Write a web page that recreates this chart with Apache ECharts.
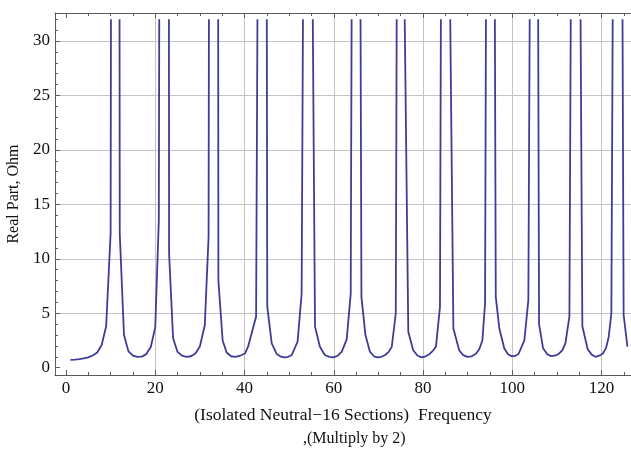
<!DOCTYPE html>
<html>
<head>
<meta charset="utf-8">
<script src="https://cdn.jsdelivr.net/npm/echarts@6/dist/echarts.min.js"></script>
<style>html,body{margin:0;padding:0;background:#fff;}#c{width:631px;height:451px;}</style>
</head>
<body>
<div id="c"></div>
<script>
// Frequency samples (x) and real part (Ohm); null = peak clipped above plot range (line break)
const freqX = [
  1,2,3,4,5,6,7,8,9,10,10.08, 11,
  12.0,12.05,13,14,15,16,17,18,19,20,20.8,20.9, 22,
  23.07,23.1,24,25,26,27,28,29,30,31.1,31.95,32.03, 33,
  34.1,34.15,35.1,36,37,38,39,40.1,40.8,42.6,42.9, 44,
  45.0,45.1,46.1,47.2,48.0,48.9,49.8,50.6,51.9,52.8,53.1, 54,
  55.3,55.8,56.9,58.0,59.0,59.9,60.9,61.8,62.9,63.8,64.0, 65,
  66.0,66.2,67.1,68.1,69.0,69.8,70.7,71.5,72.3,73.0,73.9,74.1, 75,
  75.9,76.7,77.8,78.8,79.7,80.6,81.5,82.3,82.9,83.8,84.0, 85,
  86.1,86.8,88.1,89.0,90.0,90.9,91.8,92.6,93.3,93.9,94.1, 95,
  96.1,96.3,97.1,98.2,99.0,99.7,100.6,101.4,102.7,103.6,103.9, 105,
  105.8,106.0,106.9,107.8,108.6,109.5,110.4,111.2,111.9,112.8,113.1, 114,
  115.3,115.7,116.9,117.8,118.6,119.5,120.3,121.0,121.6,122.2,122.5, 123.5,
  124.7,124.95,125.8
];
const realPart = [
  0.72,0.74,0.78,0.85,0.95,1.12,1.4,2.08,3.8,12.3,32, null,
  32,12.3,3.0,1.5,1.1,1.0,1.02,1.25,1.9,3.7,13.5,32, null,
  32,10.5,2.7,1.45,1.1,1.0,1.05,1.3,1.95,3.9,12,32, null,
  32,8.0,2.5,1.4,1.05,1.0,1.1,1.3,1.93,4.7,32, null,
  32,5.6,2.24,1.26,1.05,0.95,1.0,1.17,2.4,6.8,32, null,
  32,3.77,1.93,1.17,1.0,0.95,1.1,1.47,2.6,6.8,32, null,
  32,6.5,3.0,1.47,1.05,0.95,1.0,1.17,1.45,1.93,5.0,32, null,
  32,3.3,1.6,1.1,0.95,1.05,1.26,1.6,1.93,5.6,32, null,
  32,3.6,1.6,1.15,1.0,1.05,1.26,1.7,2.5,5.9,32, null,
  32,6.5,3.6,1.78,1.25,1.07,1.07,1.26,2.5,6.2,32, null,
  32,4.0,1.78,1.25,1.07,1.1,1.26,1.6,2.24,4.7,32, null,
  32,3.8,1.7,1.2,1.0,1.1,1.3,1.8,2.8,5.0,32, null,
  32,4.84,1.93
];
const xMajorTicks = [0,20,40,60,80,100,120];
const xMinorTicks = [5,10,15,25,30,35,45,50,55,65,70,75,85,90,95,105,110,115,125];
const yMajorTicks = [0,5,10,15,20,25,30];
const yMinorTicks = [1,2,3,4,6,7,8,9,11,12,13,14,16,17,18,19,21,22,23,24,26,27,28,29,31,32];

const seriesData = freqX.map((x, i) => realPart[i] === null ? [x, '-'] : [x, realPart[i]]);

const FONT = 'Liberation Serif';
const AX = '#5a5a5a';
const GRIDC = '#c4c4c4';
const XMIN = -2.46, XMAX = 126.6, YMIN = -0.67, YMAX = 32.57;

function xAx(extra) {
  return Object.assign({
    type: 'value', min: XMIN, max: XMAX, position: 'bottom',
    axisLine: {show: false, onZero: false}, axisLabel: {show: false}, axisTick: {show: false},
    splitLine: {show: false}, minorTick: {show: false}
  }, extra);
}
function yAx(extra) {
  return Object.assign({
    type: 'value', min: YMIN, max: YMAX, position: 'left',
    axisLine: {show: false, onZero: false}, axisLabel: {show: false}, axisTick: {show: false},
    splitLine: {show: false}, minorTick: {show: false}
  }, extra);
}

const chart = echarts.init(document.getElementById('c'), null, {renderer: 'canvas'});
chart.setOption({
  animation: false,
  backgroundColor: '#ffffff',
  grid: {left: 55, right: 0, top: 13, bottom: 76, containLabel: false, outerBoundsMode: 'none'},
  xAxis: [
    xAx({
      name: '(Isolated Neutral\u221216 Sections)  Frequency',
      nameLocation: 'middle', nameGap: 31,
      nameTextStyle: {fontFamily: FONT, fontSize: 17.5, color: '#111'},
      axisLine: {show: true, onZero: false, lineStyle: {color: AX, width: 1}},
      axisTick: {show: true, inside: true, length: 5, customValues: xMajorTicks, lineStyle: {color: AX}},
      axisLabel: {show: true, customValues: xMajorTicks, margin: 5, fontFamily: FONT, fontSize: 17, color: '#111'},
      splitLine: {show: true, lineStyle: {color: ['rgba(0,0,0,0)', GRIDC, GRIDC, GRIDC, GRIDC, GRIDC, GRIDC], width: 1}}
    }),
    xAx({
      axisTick: {show: true, inside: true, length: 3, customValues: xMinorTicks, lineStyle: {color: AX}}
    }),
    xAx({
      position: 'top',
      axisLine: {show: true, onZero: false, lineStyle: {color: AX, width: 1}},
      axisTick: {show: true, inside: true, length: 5, customValues: xMajorTicks, lineStyle: {color: AX}}
    }),
    xAx({
      position: 'top',
      axisTick: {show: true, inside: true, length: 3, customValues: xMinorTicks, lineStyle: {color: AX}}
    })
  ],
  yAxis: [
    yAx({
      name: 'Real Part, Ohm',
      nameLocation: 'middle', nameGap: 25, nameRotate: 90,
      nameTextStyle: {fontFamily: FONT, fontSize: 16, color: '#111'},
      axisLine: {show: true, onZero: false, lineStyle: {color: AX, width: 1}},
      axisTick: {show: true, inside: true, length: 5, customValues: yMajorTicks, lineStyle: {color: AX}},
      axisLabel: {show: true, customValues: yMajorTicks, margin: 5, fontFamily: FONT, fontSize: 17, color: '#111'},
      splitLine: {show: true, lineStyle: {color: ['rgba(0,0,0,0)', GRIDC, GRIDC, GRIDC, GRIDC, GRIDC, GRIDC], width: 1}}
    }),
    yAx({
      axisTick: {show: true, inside: true, length: 3, customValues: yMinorTicks, lineStyle: {color: AX}}
    })
  ],
  graphic: [{
    type: 'text', left: 303, top: 431,
    style: {text: ',(Multiply by 2)', font: '16px "Liberation Serif"', fill: '#111'}
  }],
  series: [{
    type: 'line', xAxisIndex: 0, yAxisIndex: 0,
    data: seriesData, showSymbol: false, symbol: 'none', connectNulls: false, clip: true,
    lineStyle: {color: '#3d3d99', width: 1.8}
  }]
});
</script>
</body>
</html>
